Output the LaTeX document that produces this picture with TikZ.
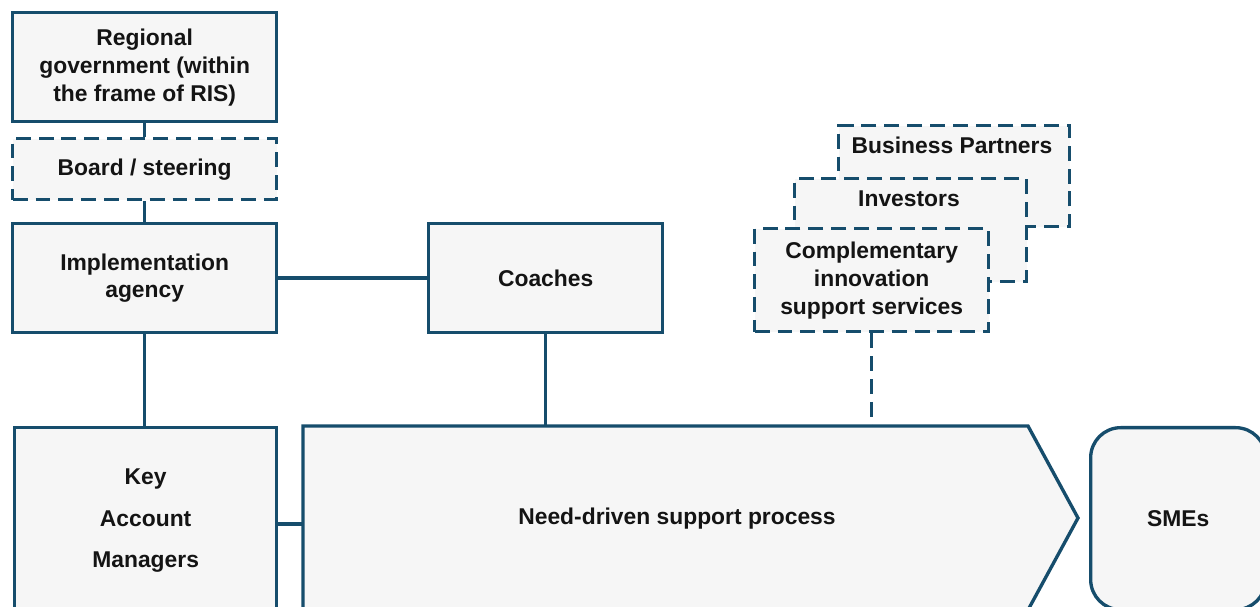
\documentclass[tikz,border=0pt]{standalone}
\usepackage{fontspec}
\setmainfont{Liberation Sans}
\usetikzlibrary{calc}
\definecolor{navy}{RGB}{22,77,108}
\definecolor{boxfill}{RGB}{246,246,246}
\definecolor{ink}{RGB}{20,20,20}
\begin{document}
\begin{tikzpicture}[x=0.02cm,y=-0.02cm,
  lbl/.style={align=center, text=ink, font=\bfseries\fontsize{13}{15.9}\selectfont, inner sep=0pt},
  box/.style={lbl, draw=navy, fill=boxfill, line width=1.9pt, rectangle, anchor=north west},
  dbox/.style={box, dash pattern=on 8.5pt off 4.5pt},
  wh/.style 2 args={minimum width=#1*0.02cm, minimum height=#2*0.02cm},
  conn/.style={draw=navy, line width=1.9pt},
  dconn/.style={conn, dash pattern=on 8.5pt off 4.5pt}]
\clip (0,0) rectangle (1260,607);
% left column
\node[box, wh={264}{109}] (rg) at (11,11) {Regional\\government (within\\the frame of RIS)};
\node[dbox, wh={264}{61}] (board) at (11,137) {Board / steering};
\node[box, wh={264}{109}] (impl) at (11,222) {Implementation\\agency};
\node[box, wh={234}{109}] (coach) at (427,222) {Coaches};
\node[box, wh={262}{186}] (kam) at (13,426) {Key\\[7.9pt]Account\\[7.9pt]Managers};
% stacked dashed boxes
\node[dbox, wh={231}{101}] (bp) at (837,124) {};
\node[lbl] (bpt) at (952,145) {Business Partners};
\node[dbox, wh={232}{103}] (inv) at (793,177) {};
\node[lbl] (invt) at (909,199) {Investors};
\node[dbox, wh={234}{103}] (comp) at (753,227) {Complementary\\innovation\\support services};
% process arrow
\draw[conn, fill=boxfill, line join=miter] (303,426) -- (1028,426) -- (1078,518) -- (1028,610) -- (303,610) -- cycle;
\node[lbl] (proc) at (677,519) {Need-driven support process};
\coordinate (ptop) at (303,426);
\coordinate (pleft) at (303,524);
% SMEs
\node[box, wh={175}{182}, rounded corners=0.6cm] (sme) at (1089,426) {SMEs};
% connectors
\draw[conn] (rg.south) -- (board.north);
\draw[conn] (board.south) -- (impl.north);
\draw[conn] (impl.east) -- (coach.west);
\draw[conn] (impl.south) -- (impl.south |- kam.north);
\draw[conn] (kam.east |- pleft) -- (pleft);
\draw[conn] (coach.south) -- (coach.south |- ptop);
\draw[dconn] (comp.south) -- (comp.south |- ptop);
\end{tikzpicture}
\end{document}
